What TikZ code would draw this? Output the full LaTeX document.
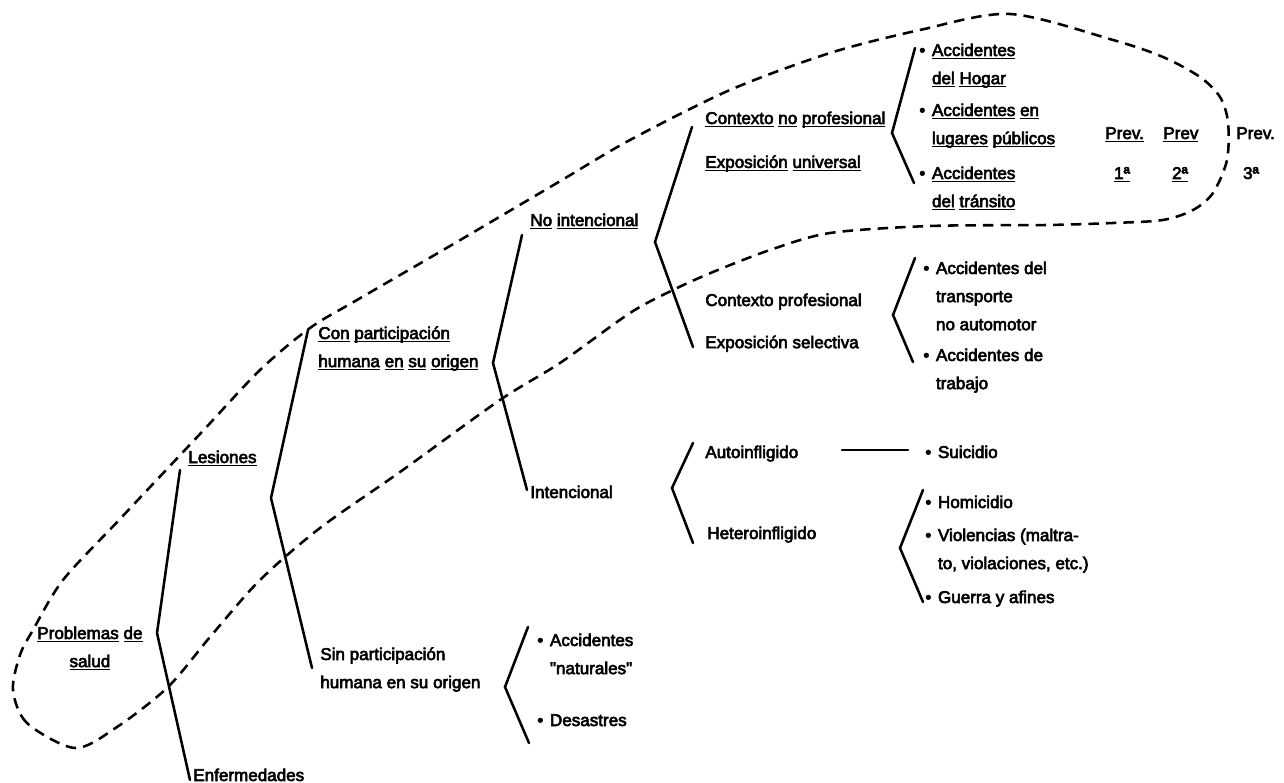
\documentclass[tikz,border=0pt]{standalone}
\usepackage{fontspec}
\setmainfont{Liberation Sans}[FakeBold=3.5]
\newcommand\fs{\fontsize{9.7}{16}\selectfont}
\newcommand\uw[1]{\leavevmode\setbox0\hbox{#1}\rlap{\rule[-1.9pt]{\wd0}{0.8pt}}\box0\relax}
\newcommand\mlines[1]{\begin{tabular}[t]{@{}l@{}}#1\end{tabular}}
\newcommand\bitem[1]{\begin{tabular}[t]{@{}l@{\hspace{3.8pt}}l@{}}\textbullet&#1\end{tabular}}
\tikzset{
  lbl/.style={anchor=base west, inner sep=0pt, font=\fs},
  lblc/.style={anchor=base, inner sep=0pt, font=\fs},
  brk/.style={line width=1.45pt, line cap=round, line join=miter},
  outline/.style={line width=1.45pt, dash pattern=on 6pt off 4pt},
}
\begin{document}
\begin{tikzpicture}[x=0.02cm, y=-0.02cm]
\useasboundingbox (0,0) rectangle (1284,783);
\fill[white] (0,0) rectangle (1284,783);

% dashed outline
\draw[outline] plot[smooth cycle, tension=0.5] coordinates {
 (75,748) (27,723) (13,690) (20,655) (33,630) (63,580) (120,519) (200,434)
 (260,370) (310,328) (357,300) (450,246) (557,183) (630,140) (730,90)
 (830,53) (920,30) (1010,14) (1113,40) (1163,57) (1200,77) (1220,97)
 (1228,122) (1227,160) (1213,193) (1193,210) (1163,220) (1113,223)
 (1047,225) (930,226) (830,233) (770,250) (713,272) (673,290) (630,313)
 (560,363) (500,400) (400,472) (320,528) (260,580) (210,637) (168,687)
 (117,727)};

% labels
\node[lbl] (prob) at (37,639) {\begin{tabular}[t]{@{}c@{}}\uw{Problemas} \uw{de}\\\uw{salud}\end{tabular}};
\node[lbl] (les) at (188,463) {\uw{Lesiones}};
\node[lbl] (enf) at (193,781) {Enfermedades};
\node[lbl] (con) at (318,339) {\mlines{\uw{Con} \uw{participación}\\\uw{humana} \uw{en} \uw{su} \uw{origen}}};
\node[lbl] (sin) at (320,660) {\mlines{Sin participación\\humana en su origen}};
\node[lbl] (noint) at (530,226) {\uw{No} \uw{intencional}};
\node[lbl] (int) at (530,498) {Intencional};
\node[lbl] (ctxn) at (705,124) {\mlines{\uw{Contexto} \uw{no} \uw{profesional}\\[9pt]\uw{Exposición} \uw{universal}}};
\node[lbl] (ctxp) at (705,306) {\mlines{Contexto profesional\\[8pt]Exposición selectiva}};
\node[lbl] (auto) at (705,458) {Autoinfligido};
\node[lbl] (het) at (707,539) {Heteroinfligido};
\node[lbl] (nat) at (537,646) {\bitem{Accidentes\\&\textquotedbl naturales\textquotedbl}};
\node[lbl] (des) at (537,726) {\bitem{Desastres}};
\node[lbl] (a1) at (919,56) {\bitem{\uw{Accidentes}\\&\uw{del} \uw{Hogar}}};
\node[lbl] (a2) at (919,116) {\bitem{\uw{Accidentes} \uw{en}\\&\uw{lugares} \uw{públicos}}};
\node[lbl] (a3) at (919,179) {\bitem{\uw{Accidentes}\\&\uw{del} \uw{tránsito}}};
\node[lbl] (p1) at (1105,139) {\uw{Prev.}};
\node[lbl] (p2) at (1163,139) {\uw{Prev}};
\node[lbl] (p3) at (1236,139) {Prev.};
\node[lblc] (n1) at (1122,179) {\uw{1ª}};
\node[lblc] (n2) at (1180,179) {\uw{2ª}};
\node[lblc] (n3) at (1251,179) {3ª};
\node[lbl] (tr) at (923,274) {\bitem{Accidentes del\\&transporte\\&no automotor}};
\node[lbl] (tb) at (923,361) {\bitem{Accidentes de\\&trabajo}};
\node[lbl] (sui) at (925,458) {\bitem{Suicidio}};
\node[lbl] (hom) at (925,508) {\bitem{Homicidio}};
\node[lbl] (vio) at (925,541) {\bitem{Violencias (maltra-\\&to, violaciones, etc.)}};
\node[lbl] (gue) at (925,603) {\bitem{Guerra y afines}};

% bracket points
\coordinate (r0t) at (180,470); \coordinate (r0v) at (157,633); \coordinate (r0b) at (190,780);
\coordinate (r2t) at (308,330); \coordinate (r2v) at (271,498); \coordinate (r2b) at (312,668);
\coordinate (r3t) at (522,235); \coordinate (r3v) at (493,363); \coordinate (r3b) at (527,490);
\coordinate (r4t) at (692,127); \coordinate (r4v) at (655,242); \coordinate (r4b) at (693,347);
\coordinate (r5t) at (915,48);  \coordinate (r5v) at (892,133); \coordinate (r5b) at (914,183);
\coordinate (r6t) at (915,258); \coordinate (r6v) at (893,315); \coordinate (r6b) at (913,362);
\coordinate (r7t) at (693,443); \coordinate (r7v) at (672,488); \coordinate (r7b) at (693,543);
\coordinate (r8t) at (923,490); \coordinate (r8v) at (900,548); \coordinate (r8b) at (923,602);
\coordinate (r9t) at (528,627); \coordinate (r9v) at (505,687); \coordinate (r9b) at (529,743);
\coordinate (s1) at (842,450); \coordinate (s2) at (908,450);

\draw[brk] (r0t) -- (r0v) -- (r0b);
\draw[brk] (r2t) -- (r2v) -- (r2b);
\draw[brk] (r3t) -- (r3v) -- (r3b);
\draw[brk] (r4t) -- (r4v) -- (r4b);
\draw[brk] (r5t) -- (r5v) -- (r5b);
\draw[brk] (r6t) -- (r6v) -- (r6b);
\draw[brk] (r7t) -- (r7v) -- (r7b);
\draw[brk] (r8t) -- (r8v) -- (r8b);
\draw[brk] (r9t) -- (r9v) -- (r9b);
\draw[brk] (s1) -- (s2);
\end{tikzpicture}
\end{document}
